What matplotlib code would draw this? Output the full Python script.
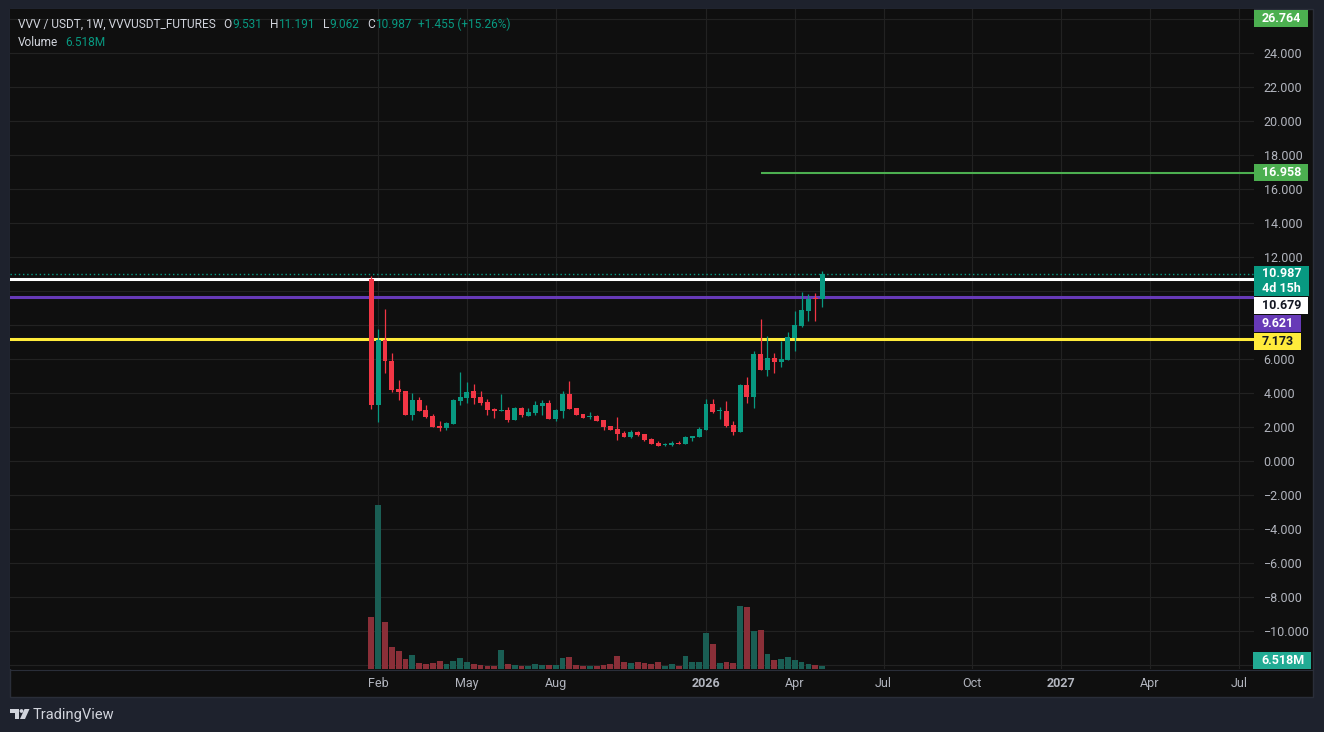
import numpy as np
import pandas as pd
import matplotlib
matplotlib.use("Agg")
import matplotlib.pyplot as plt
from matplotlib.patches import Rectangle, Circle, Polygon
from matplotlib.ticker import FuncFormatter

plt.rcParams['font.family'] = ['Roboto', 'DejaVu Sans']

# weekly bars, first bar = week of 2025-01-27
start_week = "2025-01-27"
opens = [10.68, 3.29, 7.12, 5.90, 4.24, 4.12, 2.71, 3.59, 3.00, 2.65,
         2.06, 1.96, 2.20, 3.53, 3.71, 4.12, 3.76, 3.47, 3.06, 2.94,
         3.00, 2.41, 3.12, 2.65, 2.82, 3.24, 3.41, 2.47, 2.94, 3.94,
         3.12, 2.76, 2.59, 2.65, 2.41, 2.06, 1.88, 1.65, 1.41, 1.71,
         1.59, 1.29, 1.06, 0.96, 0.94, 1.08, 1.00, 1.35, 1.41, 1.82,
         3.35, 2.94, 2.94, 2.12, 1.71, 4.47, 3.76, 6.29, 5.35, 6.06,
         5.82, 5.94, 7.24, 7.94, 8.82, 9.55, 9.531]
highs = [10.90, 7.76, 8.94, 6.35, 4.76, 4.14, 4.00, 3.76, 3.29, 2.76,
         2.35, 2.29, 3.65, 5.24, 4.65, 4.53, 4.12, 3.65, 3.12, 3.94,
         3.18, 3.18, 3.18, 3.12, 3.53, 3.59, 3.59, 3.06, 4.12, 4.71,
         3.14, 2.78, 2.88, 2.71, 2.43, 2.08, 2.60, 1.76, 1.82, 1.78,
         1.60, 1.35, 1.18, 1.06, 1.18, 1.18, 1.47, 1.48, 2.00, 3.65,
         3.65, 3.18, 3.53, 2.35, 4.53, 4.94, 6.47, 8.35, 7.35, 6.35,
         7.06, 7.59, 8.82, 9.94, 9.82, 9.88, 11.191]
lows = [3.06, 2.29, 5.20, 4.08, 3.59, 2.70, 2.41, 2.92, 2.53, 2.00,
        1.78, 1.84, 2.18, 3.31, 3.41, 3.35, 3.29, 2.71, 2.53, 2.92,
        2.29, 2.40, 2.59, 2.64, 2.71, 2.71, 2.46, 2.35, 2.53, 3.05,
        2.70, 2.52, 2.45, 2.34, 1.82, 1.80, 1.24, 1.40, 1.35, 1.47,
        1.18, 1.01, 0.87, 0.90, 0.88, 1.01, 0.99, 1.18, 1.40, 1.81,
        2.82, 2.47, 2.00, 1.53, 1.70, 3.41, 3.12, 5.34, 5.00, 5.18,
        5.53, 5.93, 6.47, 7.88, 8.24, 8.24, 9.062]
closes = [3.29, 7.12, 5.90, 4.18, 4.08, 2.71, 3.59, 2.94, 2.59, 2.02,
          1.96, 2.24, 3.59, 3.76, 4.06, 3.71, 3.41, 3.00, 2.94, 3.00,
          2.41, 3.12, 2.71, 2.88, 3.29, 3.41, 2.47, 3.00, 3.94, 3.06,
          2.71, 2.53, 2.65, 2.35, 2.02, 1.82, 1.59, 1.41, 1.71, 1.53,
          1.24, 1.02, 0.88, 1.00, 1.06, 1.02, 1.41, 1.47, 1.88, 3.35,
          2.88, 3.00, 2.06, 1.71, 4.47, 3.76, 6.29, 5.35, 6.06, 5.82,
          6.00, 7.29, 8.00, 8.88, 9.53, 9.532, 10.987]
volumes_m = [112, 356, 102, 48, 39, 22, 30, 13, 11, 13,
             17, 11, 17, 24, 15, 11, 8.6, 6.5, 6.5, 41,
             11, 8.6, 6.5, 6.5, 11, 8.6, 8.6, 8.6, 24, 26,
             8.6, 6.5, 6.5, 6.5, 8.6, 11, 28, 15, 13, 15,
             13, 11, 15, 6.5, 11, 6.5, 28, 15, 15, 78,
             54, 13, 15, 13, 136, 134, 82, 84, 32, 19,
             22, 26, 19, 15, 11, 8.6, 6.518]

# drawn levels
white_level = 10.679
purple_level = 9.621
yellow_level = 7.173
target_level = 16.958
target_from_bar = 57
top_level = 26.764
countdown = "4d 15h"

tick_months = ["2025-02-01", "2025-05-01", "2025-08-01", "2026-01-01", "2026-04-01",
               "2026-07-01", "2026-10-01", "2027-01-01", "2027-04-01", "2027-07-01"]
tick_labels = ["Feb", "May", "Aug", "2026", "Apr", "Jul", "Oct", "2027", "Apr", "Jul"]

UP = "#089981"
DOWN = "#f23645"
VOL_UP = "#1a5e54"
VOL_DOWN = "#8a2f38"
BG = "#0f0f0f"
OUTER = "#1e222d"
GRID = "#222222"
TXT = "#b2b5be"

W, H = 1324, 732
fig = plt.figure(figsize=(W / 100, H / 100), dpi=100, facecolor=OUTER)

# panel background
bg = fig.add_axes([0, 0, 1, 1], zorder=0)
bg.set_xlim(0, W); bg.set_ylim(H, 0); bg.axis('off')
bg.add_patch(Rectangle((10, 9), 1303, 688, facecolor=BG, edgecolor="#2a2e39", lw=1))
bg.plot([10, 1313], [669.5, 669.5], color="#2a2e39", lw=0.8)

pl, pr, pt, pb = 10, 1254, 9, 669
ax = fig.add_axes([pl / W, 1 - pb / H, (pr - pl) / W, (pb - pt) / H], zorder=1)
ax.set_facecolor(BG)

o = np.array(opens); h = np.array(highs); l = np.array(lows); c = np.array(closes)
x = np.arange(len(o))
up = c >= o
cols = np.where(up, UP, DOWN)

bar_px = 6.83
x0 = 371.3
ax.set_xlim((pl - x0) / bar_px, (pr - x0) / bar_px)
ax.set_ylim(-12.235, 26.588)

# volume on its own scale, bottom quarter of the pane
vax = ax.twinx()
vax.set_zorder(2)
vax.bar(x, volumes_m, width=0.85, color=np.where(up, VOL_UP, VOL_DOWN))
vax.set_ylim(0, max(volumes_m) * 4.02)
vax.axis('off')

# ticks
start = pd.Timestamp(start_week)
tick_pos = [int(np.ceil((pd.Timestamp(d) - start).days / 7)) for d in tick_months]
ax.set_xticks(tick_pos)
ax.set_xticklabels(tick_labels)
for lab, t in zip(ax.get_xticklabels(), tick_labels):
    if t.isdigit():
        lab.set_fontweight('bold')
ax.set_yticks(np.arange(-12, 27, 2))
ax.yaxis.set_major_formatter(FuncFormatter(lambda v, p: f"{v:.3f}".replace('-', '\u2212')))
ax.tick_params(axis='y', left=False, right=False, labelleft=False, labelright=True,
               length=0, pad=7, labelcolor=TXT, labelsize=9)
ax.tick_params(axis='x', length=0, pad=6, labelcolor=TXT, labelsize=9)
ax.grid(True, color=GRID, lw=0.8)
ax.set_axisbelow(True)
for s in ax.spines.values():
    s.set_visible(False)

# levels
ax.axhline(white_level, color="white", lw=2.2, zorder=2)
ax.axhline(purple_level, color="#673ab7", lw=2.2, zorder=2)
ax.axhline(yellow_level, color="#ffeb3b", lw=2.2, zorder=2)
ax.hlines(target_level, target_from_bar, ax.get_xlim()[1], color="#4caf50", lw=1.5, zorder=2)
ax.axhline(c[-1], color=UP, lw=1, ls=(0, (1, 2)), zorder=2)

# candles
ax.vlines(x, l, h, colors=cols, lw=0.9, zorder=3)
body_lo = np.minimum(o, c)
body_h = np.maximum(np.abs(c - o), 0.06)
ax.bar(x, body_h, bottom=body_lo, width=0.72, color=cols, zorder=4)

# overlay in pixel coords
ov = fig.add_axes([0, 0, 1, 1], zorder=10)
ov.set_xlim(0, W); ov.set_ylim(H, 0); ov.axis('off')
fig.canvas.draw()
rend = fig.canvas.get_renderer()


def to_px(axis, v):
    return H - axis.transData.transform((0, v))[1]


# price axis labels, stacked downward when they collide
labels = [
    (top_level, [f"{top_level:.3f}"], "#4caf50", "white"),
    (target_level, [f"{target_level:.3f}"], "#4caf50", "white"),
    (c[-1], [f"{c[-1]:.3f}", countdown], "#089981", "white"),
    (white_level, [f"{white_level:.3f}"], "white", "#131722"),
    (purple_level, [f"{purple_level:.3f}"], "#673ab7", "white"),
    (yellow_level, [f"{yellow_level:.3f}"], "#ffeb3b", "#131722"),
]
boxes = []
prev_bottom = pt
for price, lines, fc, tc in labels:
    hbox = 17 if len(lines) == 1 else 30
    top = max(to_px(ax, price) - 8.5, prev_bottom + 1)
    t = ov.text(pr + 8, top + 8.5, "\n".join(lines), color=tc, fontsize=9, fontweight='bold',
                va='center' if len(lines) == 1 else 'top', ha='left', zorder=12, linespacing=1.15)
    if len(lines) > 1:
        t.set_y(top + 1.5)
    tw = t.get_window_extent(rend).width
    ov.add_patch(Rectangle((pr, top), tw + 15, hbox, facecolor=fc, edgecolor='none', zorder=11))
    boxes.append((top, top + hbox))
    prev_bottom = top + hbox

vlab = f"{volumes_m[-1]:.3f}M"
vb = min(to_px(vax, volumes_m[-1]) + 8.5, pb)
t = ov.text(pr + 7, vb - 8.5, vlab, color="white", fontsize=9, fontweight='bold', va='center', ha='left', zorder=12)
tw = t.get_window_extent(rend).width
ov.add_patch(Rectangle((pr - 1, vb - 17), tw + 15, 17, facecolor="#22ab94", edgecolor='none', zorder=11))
boxes.append((vb - 17, vb))

# price scale hides tick labels sitting under a label box
for tick, v in zip(ax.yaxis.get_major_ticks(), ax.get_yticks()):
    py = to_px(ax, v)
    if any(b0 - 7 < py < b1 + 7 for b0, b1 in boxes):
        tick.label2.set_visible(False)

# legend header
LIGHT = "#d1d4dc"
chg = c[-1] - c[-2]
pct = chg / c[-2] * 100
row1 = [("VVV / USDT, 1W, VVVUSDT_FUTURES", LIGHT, 8), ("O", LIGHT, 0), (f"{o[-1]:.3f}", UP, 8),
        ("H", LIGHT, 0), (f"{h[-1]:.3f}", UP, 8), ("L", LIGHT, 0), (f"{l[-1]:.3f}", UP, 8),
        ("C", LIGHT, 0), (f"{c[-1]:.3f}", UP, 7), (f"+{chg:.3f} (+{pct:.2f}%)", UP, 0)]
row2 = [("Volume", LIGHT, 7), (vlab, UP, 0)]
for y, row in ((24, row1), (42, row2)):
    xc = 18
    for s, col, gap in row:
        t = ov.text(xc, y, s, color=col, fontsize=8.6, va='center', ha='left')
        xc += t.get_window_extent(rend).width + gap

# logo
logo = "#d1d4dc"
ov.add_patch(Rectangle((10, 709), 8.5, 3.5, facecolor=logo, edgecolor='none'))
ov.add_patch(Rectangle((14.5, 709), 4, 10, facecolor=logo, edgecolor='none'))
ov.add_patch(Circle((21.5, 711), 1.9, facecolor=logo, edgecolor='none'))
ov.add_patch(Polygon([(24.5, 709), (29.5, 709), (25, 719), (20, 719)], closed=True,
                     facecolor=logo, edgecolor='none'))
ov.text(33, 714.5, "TradingView", color=logo, fontsize=10.5, va='center', ha='left')

fig.savefig("out.png", dpi=100, facecolor=OUTER)
